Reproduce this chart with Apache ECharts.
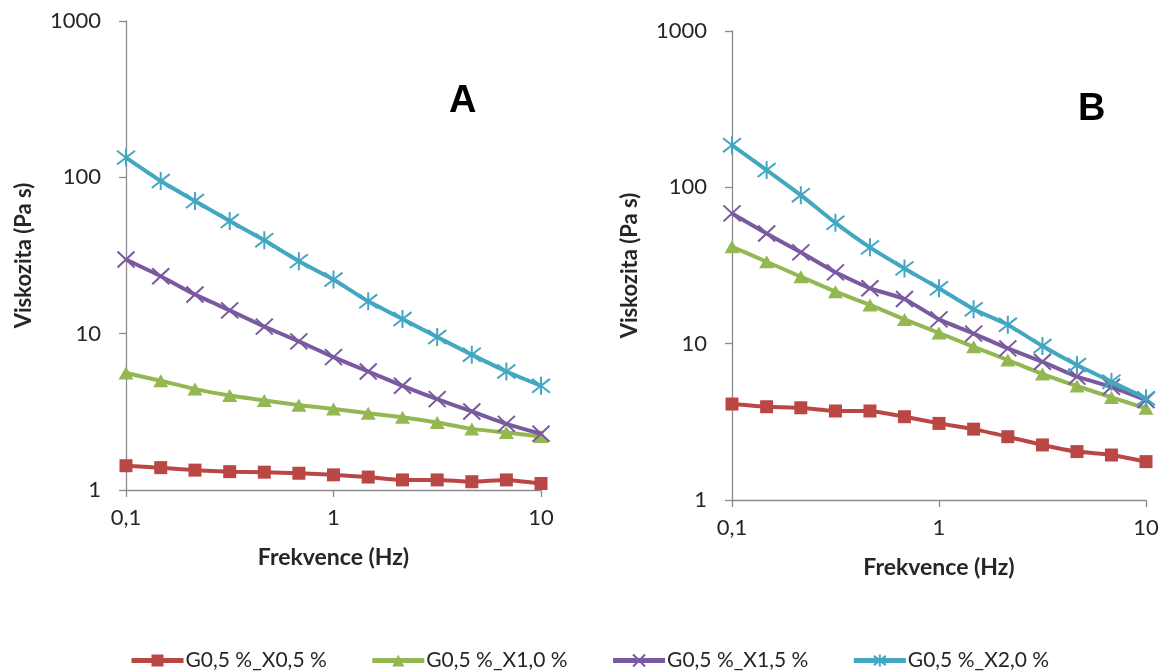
<!DOCTYPE html>
<html>
<head>
<meta charset="utf-8">
<title>Viskozita</title>
<script src="https://cdn.jsdelivr.net/npm/echarts@6/dist/echarts.min.js"></script>
<style>
  html, body { margin: 0; padding: 0; background: #ffffff; }
  #chart { width: 1173px; height: 672px; }
</style>
</head>
<body>
<div id="chart"></div>
<script>
// Frequency sweep points (Hz)
const frequencies = [0.1, 0.147, 0.215, 0.316, 0.464, 0.681, 1, 1.47, 2.15, 3.16, 4.64, 6.81, 10];

const seriesNames = ['G0,5 %_X0,5 %', 'G0,5 %_X1,0 %', 'G0,5 %_X1,5 %', 'G0,5 %_X2,0 %'];

// Panel A viscosity (Pa s)
const panelA_X05 = [1.43, 1.39, 1.34, 1.31, 1.30, 1.28, 1.25, 1.21, 1.16, 1.16, 1.13, 1.16, 1.10];
const panelA_X10 = [5.6, 5.0, 4.42, 4.02, 3.74, 3.49, 3.30, 3.10, 2.92, 2.70, 2.46, 2.33, 2.20];
const panelA_X15 = [29.8, 23.3, 17.8, 14.1, 11.1, 8.93, 7.08, 5.73, 4.64, 3.81, 3.18, 2.65, 2.29];
const panelA_X20 = [133.7, 94.7, 70.5, 52.5, 39.6, 29.1, 22.2, 16.1, 12.4, 9.52, 7.34, 5.73, 4.64];

// Panel B viscosity (Pa s)
const panelB_X05 = [4.11, 3.95, 3.89, 3.71, 3.71, 3.41, 3.09, 2.84, 2.54, 2.25, 2.04, 1.94, 1.76];
const panelB_X10 = [41.7, 33.4, 26.8, 21.5, 17.7, 14.3, 11.7, 9.55, 7.85, 6.39, 5.36, 4.53, 3.86];
const panelB_X15 = [68.1, 50.7, 38.4, 28.6, 22.6, 19.3, 14.3, 11.6, 9.33, 7.66, 6.15, 5.30, 4.36];
const panelB_X20 = [186, 129, 89.1, 59.3, 41.3, 30.3, 22.6, 16.6, 13.2, 9.65, 7.30, 5.71, 4.47];

const panelLabels = ['A', 'B'];

const colors = ['#BB4744', '#93B751', '#7A5A9F', '#44A7C2'];
const symbols = [
  'rect',
  'triangle',
  'path://M0,0L10,10M10,0L0,10',
  'path://M0,0L10,10M10,0L0,10M5,-1.5L5,11.5'
];
const symbolSizes = [13, [15, 13], [17, 16], [18, 18]];

const FONT = 'Lato, "Open Sans", sans-serif';

function pairs(values) {
  return frequencies.map((f, i) => [f, values[i]]);
}

function makeSeries(idx, values, axisIndex) {
  const isStroke = idx >= 2;
  return {
    name: seriesNames[idx],
    type: 'line',
    xAxisIndex: axisIndex,
    yAxisIndex: axisIndex,
    data: pairs(values),
    symbol: symbols[idx],
    symbolSize: symbolSizes[idx],
    showAllSymbol: true,
    smooth: 0.15,
    lineStyle: { width: 4, color: colors[idx] },
    itemStyle: {
      color: isStroke ? 'rgba(0,0,0,0)' : colors[idx],
      borderColor: colors[idx],
      borderWidth: isStroke ? 2 : 0
    },
    z: 2 + idx,
    animation: false
  };
}

// Decimal comma on tick labels, no thousands separator
const tickText = v => String(v).replace('.', ',');

function xAxisCfg(gridIndex) {
  return {
    type: 'log',
    logBase: 10,
    gridIndex: gridIndex,
    min: 0.1,
    max: 10,
    name: 'Frekvence (Hz)',
    nameLocation: 'middle',
    nameGap: 56,
    nameTextStyle: { fontFamily: FONT, fontWeight: 'bold', fontSize: 23, color: '#262626' },
    axisLine: { show: true, lineStyle: { color: '#8C8C8C', width: 1.3 } },
    axisTick: { show: true, length: 7, lineStyle: { color: '#8C8C8C', width: 1.3 } },
    axisLabel: { fontFamily: FONT, fontSize: 22, color: '#262626', margin: 17, formatter: tickText },
    splitLine: { show: false },
    minorTick: { show: false }
  };
}

function yAxisCfg(gridIndex) {
  return {
    type: 'log',
    logBase: 10,
    gridIndex: gridIndex,
    min: 1,
    max: 1000,
    name: 'Viskozita (Pa s)',
    nameLocation: 'middle',
    nameGap: 91,
    nameTextStyle: { fontFamily: FONT, fontWeight: 'bold', fontSize: 22, color: '#262626' },
    axisLine: { show: true, lineStyle: { color: '#8C8C8C', width: 1.3 } },
    axisTick: { show: true, length: 7, lineStyle: { color: '#8C8C8C', width: 1.3 } },
    axisLabel: { fontFamily: FONT, fontSize: 22, color: '#262626', margin: 25, formatter: tickText },
    splitLine: { show: false },
    minorTick: { show: false }
  };
}

const chart = echarts.init(document.getElementById('chart'), null, { renderer: 'canvas' });

chart.setOption({
  backgroundColor: '#ffffff',
  animation: false,
  grid: [
    { left: 126, top: 21, width: 415, height: 469 },
    { left: 732, top: 31, width: 414, height: 469 }
  ],
  xAxis: [xAxisCfg(0), xAxisCfg(1)],
  yAxis: [yAxisCfg(0), yAxisCfg(1)],
  legend: {
    data: seriesNames,
    left: 124,
    top: 645,
    itemWidth: 52,
    itemHeight: 15,
    itemGap: 43,
    lineStyle: { width: 5 },
    textStyle: { fontFamily: FONT, fontSize: 21, color: '#262626', padding: [0, 0, 0, -3] }
  },
  graphic: [
    {
      type: 'text', left: 449, top: 83,
      style: { text: panelLabels[0], font: 'bold 38px "Liberation Sans", Arial, sans-serif', fill: '#000' }
    },
    {
      type: 'text', left: 1078, top: 91,
      style: { text: panelLabels[1], font: 'bold 38px "Liberation Sans", Arial, sans-serif', fill: '#000' }
    }
  ],
  series: [
    makeSeries(0, panelA_X05, 0),
    makeSeries(1, panelA_X10, 0),
    makeSeries(2, panelA_X15, 0),
    makeSeries(3, panelA_X20, 0),
    makeSeries(0, panelB_X05, 1),
    makeSeries(1, panelB_X10, 1),
    makeSeries(2, panelB_X15, 1),
    makeSeries(3, panelB_X20, 1)
  ]
});
</script>
</body>
</html>
